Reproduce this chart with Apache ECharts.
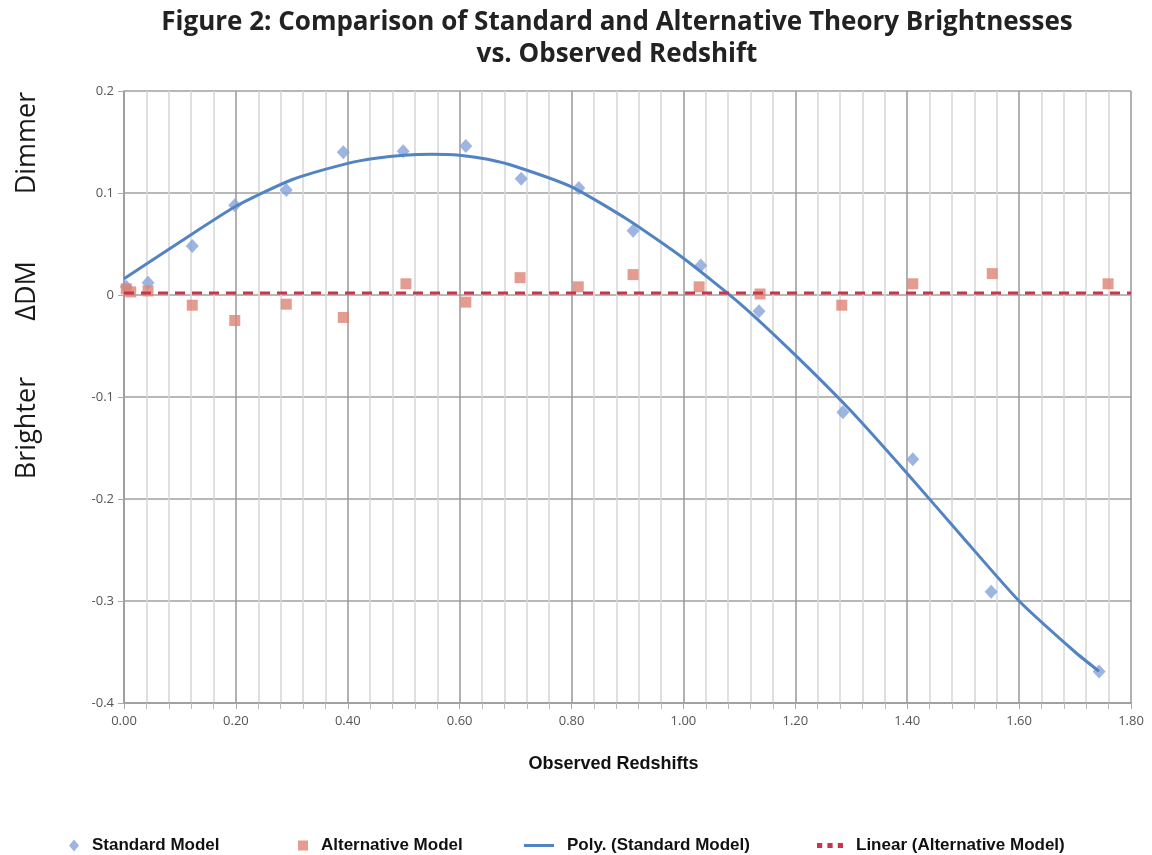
<!DOCTYPE html>
<html>
<head>
<meta charset="utf-8">
<script src="https://cdn.jsdelivr.net/npm/echarts@6/dist/echarts.min.js"></script>
<style>
  html, body { margin: 0; padding: 0; background: #fff; }
  #chart { width: 1152px; height: 855px; }
</style>
</head>
<body>
<div id="chart"></div>
<script>
// values
const stdX = [0.004, 0.043, 0.122, 0.198, 0.29, 0.392, 0.499, 0.611, 0.71, 0.813, 0.91, 1.031, 1.135, 1.285, 1.41, 1.55, 1.743];
const stdY = [0.008, 0.012, 0.048, 0.088, 0.103, 0.140, 0.141, 0.146, 0.114, 0.105, 0.063, 0.029, -0.016, -0.115, -0.161, -0.291, -0.369];

const altX = [0.004, 0.012, 0.043, 0.122, 0.198, 0.29, 0.392, 0.504, 0.611, 0.708, 0.812, 0.91, 1.028, 1.137, 1.283, 1.41, 1.552, 1.759];
const altY = [0.006, 0.003, 0.004, -0.010, -0.025, -0.009, -0.022, 0.011, -0.007, 0.017, 0.008, 0.020, 0.008, 0.001, -0.010, 0.011, 0.021, 0.011];

// trendlines as traced on the figure
const polyX = [0, 0.1, 0.2, 0.3, 0.4, 0.45, 0.5, 0.55, 0.6, 0.65, 0.7, 0.8, 0.9, 1.0, 1.1, 1.2, 1.3, 1.4, 1.5, 1.6, 1.7, 1.743];
const polyY = [0.016, 0.052, 0.087, 0.113, 0.129, 0.134, 0.137, 0.138, 0.137, 0.133, 0.126, 0.106, 0.074, 0.036, -0.008, -0.059, -0.114, -0.175, -0.238, -0.300, -0.350, -0.369];

const linX = [0, 1.8];
const linY = [0.002, 0.002];

const xTicks = { min: 0, max: 1.8, step: 0.2 };
const yTicks = { min: -0.4, max: 0.2, step: 0.1 };

const pairs = (xs, ys) => xs.map((x, i) => [x, ys[i]]);

const labelFont = 'Open Sans';
const legendText = { fontFamily: 'Liberation Sans', fontWeight: 'bold', fontSize: 17, color: '#111', padding: [0, 0, 0, 8] };
const dotsIcon = 'path://M0,0h4v4h-4z M8,0h4v4h-4z M16,0h4v4h-4z';

const chart = echarts.init(document.getElementById('chart'));
chart.setOption({
  animation: false,
  backgroundColor: '#fff',
  title: {
    text: 'Figure 2: Comparison of Standard and Alternative Theory Brightnesses\nvs. Observed Redshift',
    left: 617,
    top: 7,
    padding: 0,
    textAlign: 'center',
    textStyle: { fontFamily: labelFont, fontWeight: 'bold', fontSize: 26, lineHeight: 32, color: '#222' }
  },
  grid: { left: 124, right: 21, top: 91, bottom: 152 },
  xAxis: {
    type: 'value',
    min: xTicks.min, max: xTicks.max, interval: xTicks.step,
    name: 'Observed Redshifts',
    nameLocation: 'middle',
    nameGap: 52,
    nameTextStyle: { fontFamily: 'Liberation Sans', fontWeight: 'bold', fontSize: 18, color: '#111', padding: [0, 28, 0, 0] },
    axisLine: { onZero: false, lineStyle: { color: '#999', width: 1.5 } },
    axisTick: { show: true, length: 6, lineStyle: { color: '#aaa' } },
    minorTick: { show: true, splitNumber: 5, length: 6, lineStyle: { color: '#bbb' } },
    axisLabel: { margin: 12, fontFamily: labelFont, fontSize: 13, color: '#555', formatter: v => v.toFixed(2) },
    splitLine: { show: true, lineStyle: { color: '#999', width: 1.5 } },
    minorSplitLine: { show: true, lineStyle: { color: '#d6d6d6', width: 1.5 } }
  },
  yAxis: {
    type: 'value',
    min: yTicks.min, max: yTicks.max, interval: yTicks.step,
    axisLine: { show: true, lineStyle: { color: '#999', width: 1.5 } },
    axisTick: { show: true, length: 6, lineStyle: { color: '#aaa' } },
    axisLabel: { margin: 10, fontFamily: labelFont, fontSize: 13, color: '#555',
      formatter: v => Math.abs(v) < 1e-9 ? '0' : v.toFixed(1) },
    splitLine: { show: true, lineStyle: { color: '#a0a0a0', width: 1.5 } }
  },
  legend: [
    { left: 64, top: 832, itemWidth: 10, itemHeight: 12, data: ['Standard Model'], textStyle: legendText },
    { left: 293, top: 832, itemWidth: 10, itemHeight: 10, data: ['Alternative Model'], textStyle: legendText },
    { left: 519, top: 832, itemWidth: 30, itemHeight: 3,
      data: [{ name: 'Poly. (Standard Model)', icon: 'rect' }], textStyle: legendText },
    { left: 812, top: 832, itemWidth: 26, itemHeight: 10,
      data: [{ name: 'Linear (Alternative Model)', icon: dotsIcon }], textStyle: legendText }
  ],
  graphic: [
    { type: 'text', x: 27, y: 143, rotation: Math.PI / 2,
      style: { text: 'Dimmer', align: 'center', verticalAlign: 'middle', font: '27px "Open Sans"', fill: '#1a1a1a' } },
    { type: 'text', x: 27, y: 291, rotation: Math.PI / 2,
      style: { text: 'ΔDM', align: 'center', verticalAlign: 'middle', font: '27px "Open Sans"', fill: '#1a1a1a' } },
    { type: 'text', x: 27, y: 428, rotation: Math.PI / 2,
      style: { text: 'Brighter', align: 'center', verticalAlign: 'middle', font: '27px "Open Sans"', fill: '#1a1a1a' } }
  ],
  series: [
    {
      name: 'Standard Model',
      type: 'scatter',
      symbol: 'diamond',
      symbolSize: [13, 14],
      itemStyle: { color: '#86a3da' },
      data: pairs(stdX, stdY),
      z: 3
    },
    {
      name: 'Alternative Model',
      type: 'scatter',
      symbol: 'rect',
      symbolSize: 11,
      itemStyle: { color: '#df8374' },
      data: pairs(altX, altY),
      z: 3
    },
    {
      name: 'Poly. (Standard Model)',
      type: 'line',
      smooth: 0.2,
      symbol: 'none',
      lineStyle: { color: '#5283c2', width: 3 },
      itemStyle: { color: '#5283c2' },
      data: pairs(polyX, polyY),
      z: 4
    },
    {
      name: 'Linear (Alternative Model)',
      type: 'line',
      symbol: 'none',
      lineStyle: { color: '#c8354c', width: 3, type: [10, 7] },
      itemStyle: { color: '#c8354c' },
      data: pairs(linX, linY),
      z: 4
    }
  ]
});
</script>
</body>
</html>
